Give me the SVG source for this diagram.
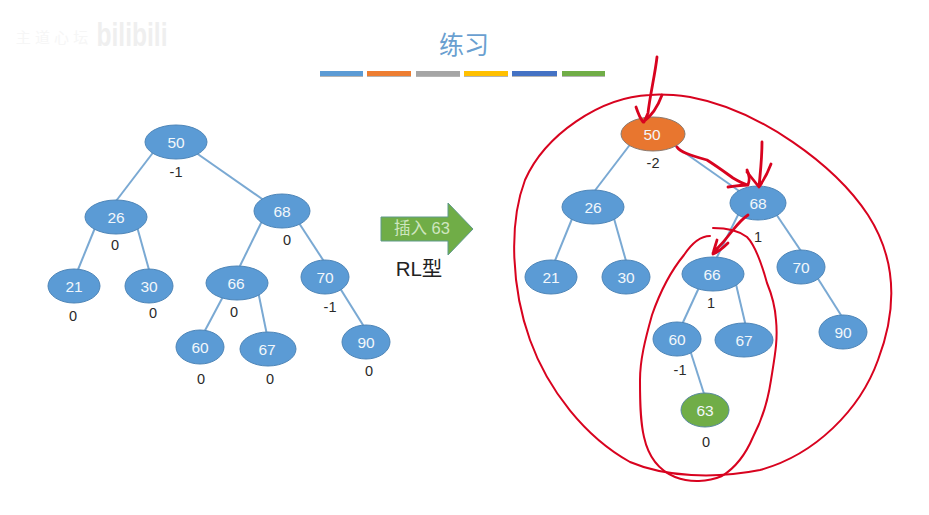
<svg xmlns="http://www.w3.org/2000/svg" width="929" height="515" viewBox="0 0 929 515">
<style>
text{font-family:"Liberation Sans","Noto Sans CJK SC",sans-serif;text-anchor:middle}
.n ellipse{fill:#5b9bd5;stroke:#4f86b8;stroke-width:1}
.n text{fill:#f2f7fb;font-size:15.5px}
.b{fill:#2a2a2a;font-size:14.5px}
.e line{stroke:#7aa9d3;stroke-width:2}
.r{fill:none;stroke:#d8031f;stroke-width:2;stroke-linecap:round;stroke-linejoin:round}
.rb{stroke-width:2.8}
.bar{height:5px}
.sh{fill:#b5b5b5;height:2px}
</style>
<rect width="929" height="515" fill="#fff"/>
<text x="464" y="54" font-size="25" style="fill:#6a9fd0" id="title">练习</text>
<g id="bars">
<rect class="sh" x="320" y="75" width="43"/><rect class="sh" x="367" y="75" width="44"/><rect class="sh" x="416" y="75" width="44"/><rect class="sh" x="464" y="75" width="44"/><rect class="sh" x="512" y="75" width="45"/><rect class="sh" x="562" y="75" width="43"/>
<rect class="bar" x="320" y="71" width="43" fill="#5b9bd5"/>
<rect class="bar" x="367" y="71" width="44" fill="#ed7d31"/>
<rect class="bar" x="416" y="71" width="44" fill="#a5a5a5"/>
<rect class="bar" x="464" y="71" width="44" fill="#ffc000"/>
<rect class="bar" x="512" y="71" width="45" fill="#4472c4"/>
<rect class="bar" x="562" y="71" width="43" fill="#70ad47"/>
</g>
<g id="connectors" class="e">
<line x1="155" y1="150" x2="113" y2="205"/><line x1="192" y1="150" x2="265" y2="201"/>
<line x1="97" y1="223" x2="75" y2="277"/><line x1="136" y1="223" x2="151" y2="277"/>
<line x1="264" y1="217" x2="236" y2="274"/><line x1="297" y1="220" x2="327" y2="266"/>
<line x1="226" y1="291" x2="201" y2="338"/><line x1="258" y1="291" x2="268" y2="340"/>
<line x1="338" y1="285" x2="368" y2="333"/>
<line x1="632" y1="142" x2="590" y2="197"/><line x1="668" y1="141" x2="742" y2="193"/>
<line x1="574" y1="214" x2="552" y2="268"/><line x1="613" y1="215" x2="628" y2="268"/>
<line x1="741" y1="209" x2="713" y2="265"/><line x1="774" y1="211" x2="805" y2="257"/>
<line x1="702" y1="281" x2="679" y2="331"/><line x1="735" y1="280" x2="747" y2="331"/>
<line x1="815" y1="274" x2="846" y2="323"/><line x1="690" y1="350" x2="706" y2="400"/>
</g>
<g id="n50" class="n"><ellipse cx="176" cy="142" rx="31" ry="17"/><text x="176" y="148">50</text></g>
<g id="n26" class="n"><ellipse cx="116" cy="217" rx="31" ry="17"/><text x="116" y="223">26</text></g>
<g id="n68" class="n"><ellipse cx="282" cy="211" rx="28" ry="17"/><text x="282" y="217">68</text></g>
<g id="n21" class="n"><ellipse cx="74" cy="286" rx="26" ry="17"/><text x="74" y="292">21</text></g>
<g id="n30" class="n"><ellipse cx="149" cy="286" rx="24" ry="17"/><text x="149" y="292">30</text></g>
<g id="n66" class="n"><ellipse cx="237" cy="283" rx="31" ry="17"/><text x="236" y="289">66</text></g>
<g id="n70" class="n"><ellipse cx="325" cy="277" rx="24" ry="17"/><text x="325" y="283">70</text></g>
<g id="n60" class="n"><ellipse cx="200" cy="347" rx="24" ry="17"/><text x="200" y="353">60</text></g>
<g id="n67" class="n"><ellipse cx="268" cy="349" rx="28" ry="17"/><text x="267" y="355">67</text></g>
<g id="n90" class="n"><ellipse cx="366" cy="342" rx="24" ry="17"/><text x="366" y="348">90</text></g>
<g id="m50" class="n"><ellipse cx="653" cy="134" rx="32" ry="17" style="fill:#e8762f;stroke:#8a7a70"/><text x="652" y="140">50</text></g>
<g id="m26" class="n"><ellipse cx="593" cy="207" rx="31" ry="17"/><text x="593" y="213">26</text></g>
<g id="m68" class="n"><ellipse cx="758" cy="203" rx="28" ry="17"/><text x="758" y="209">68</text></g>
<g id="m21" class="n"><ellipse cx="551" cy="277" rx="26" ry="17"/><text x="551" y="283">21</text></g>
<g id="m30" class="n"><ellipse cx="626" cy="277" rx="24" ry="17"/><text x="626" y="283">30</text></g>
<g id="m66" class="n"><ellipse cx="713" cy="274" rx="31" ry="17"/><text x="712" y="280">66</text></g>
<g id="m70" class="n"><ellipse cx="801" cy="267" rx="24" ry="17"/><text x="801" y="273">70</text></g>
<g id="m60" class="n"><ellipse cx="677" cy="339" rx="24" ry="17"/><text x="677" y="345">60</text></g>
<g id="m67" class="n"><ellipse cx="744" cy="340" rx="29" ry="17"/><text x="744" y="346">67</text></g>
<g id="m90" class="n"><ellipse cx="843" cy="332" rx="24" ry="17"/><text x="843" y="338">90</text></g>
<g id="m63" class="n"><ellipse cx="705" cy="410" rx="24" ry="17" style="fill:#70ad47;stroke:#5a8aa0"/><text x="705" y="416">63</text></g>
<g id="labels">
<text class="b" x="176" y="177">-1</text><text class="b" x="115" y="250">0</text><text class="b" x="287" y="245">0</text>
<text class="b" x="73" y="321">0</text><text class="b" x="153" y="318">0</text><text class="b" x="234" y="317">0</text>
<text class="b" x="330" y="312">-1</text><text class="b" x="201" y="384">0</text><text class="b" x="270" y="384">0</text><text class="b" x="369" y="376">0</text>
<text class="b" x="653" y="168">-2</text><text class="b" x="758" y="242">1</text><text class="b" x="711" y="308">1</text>
<text class="b" x="680" y="375">-1</text><text class="b" x="706" y="447">0</text>
</g>
<g id="arrow">
<polygon points="381,217 448,217 448,203 473,229 448,255 448,241 381,241" fill="#70ad47" stroke="#5f9a8a"/>
<text x="422" y="234" font-size="16.5" style="fill:#cfe6c0">插入 63</text>
<text x="419" y="276" font-size="20.5" style="fill:#222">RL型</text>
</g>
<g id="ink">
<path class="r" d="M650 95C600 97 545 135 525 180C508 225 512 290 530 340C548 390 585 437 630 462C665 477 715 479 760 470C815 455 860 410 878 360C897 310 897 260 868 215C835 165 760 110 690 97C675 95 660 94 650 95Z"/>
<path class="r" d="M710 236C698 236 690 246 684 255C670 272 660 292 652 315C645 340 640 360 640 380C640 400 640 420 644 437C648 455 658 470 675 477C690 483 708 482 722 476C735 468 745 456 753 437C762 420 768 400 771 380C775 355 778 340 776 320C775 305 772 295 767 283C762 265 755 245 747 237C738 230 725 228 713 228"/>
<path class="r rb" d="M657 57C655 75 650 95 648 113L644 122M636 107C638 113 640 118 643 122C652 116 658 106 662 95"/>
<path class="r rb" d="M677 147C680 152 690 155 707 160C718 167 726 173 733 178C738 181 743 184 748 185M728 187C735 186 742 185 748 185C750 180 749 174 747 170"/>
<path class="r rb" d="M762 142C762 160 760 175 759 187M747 172C751 177 755 182 759 187C764 180 768 172 771 164"/>
<path class="r rb" d="M748 215C742 219 737 225 733 230C727 238 720 246 713 253M728 243C723 248 718 252 713 254C714 249 716 244 717 240"/>
</g>
<g id="watermark">
<text x="52" y="43" font-size="15" style="fill:#f6f6f6">主 道 心 坛</text>
<text x="132" y="46" font-size="34" font-weight="bold" textLength="71" lengthAdjust="spacingAndGlyphs" style="fill:#efefef">bilibili</text>
</g>
</svg>
